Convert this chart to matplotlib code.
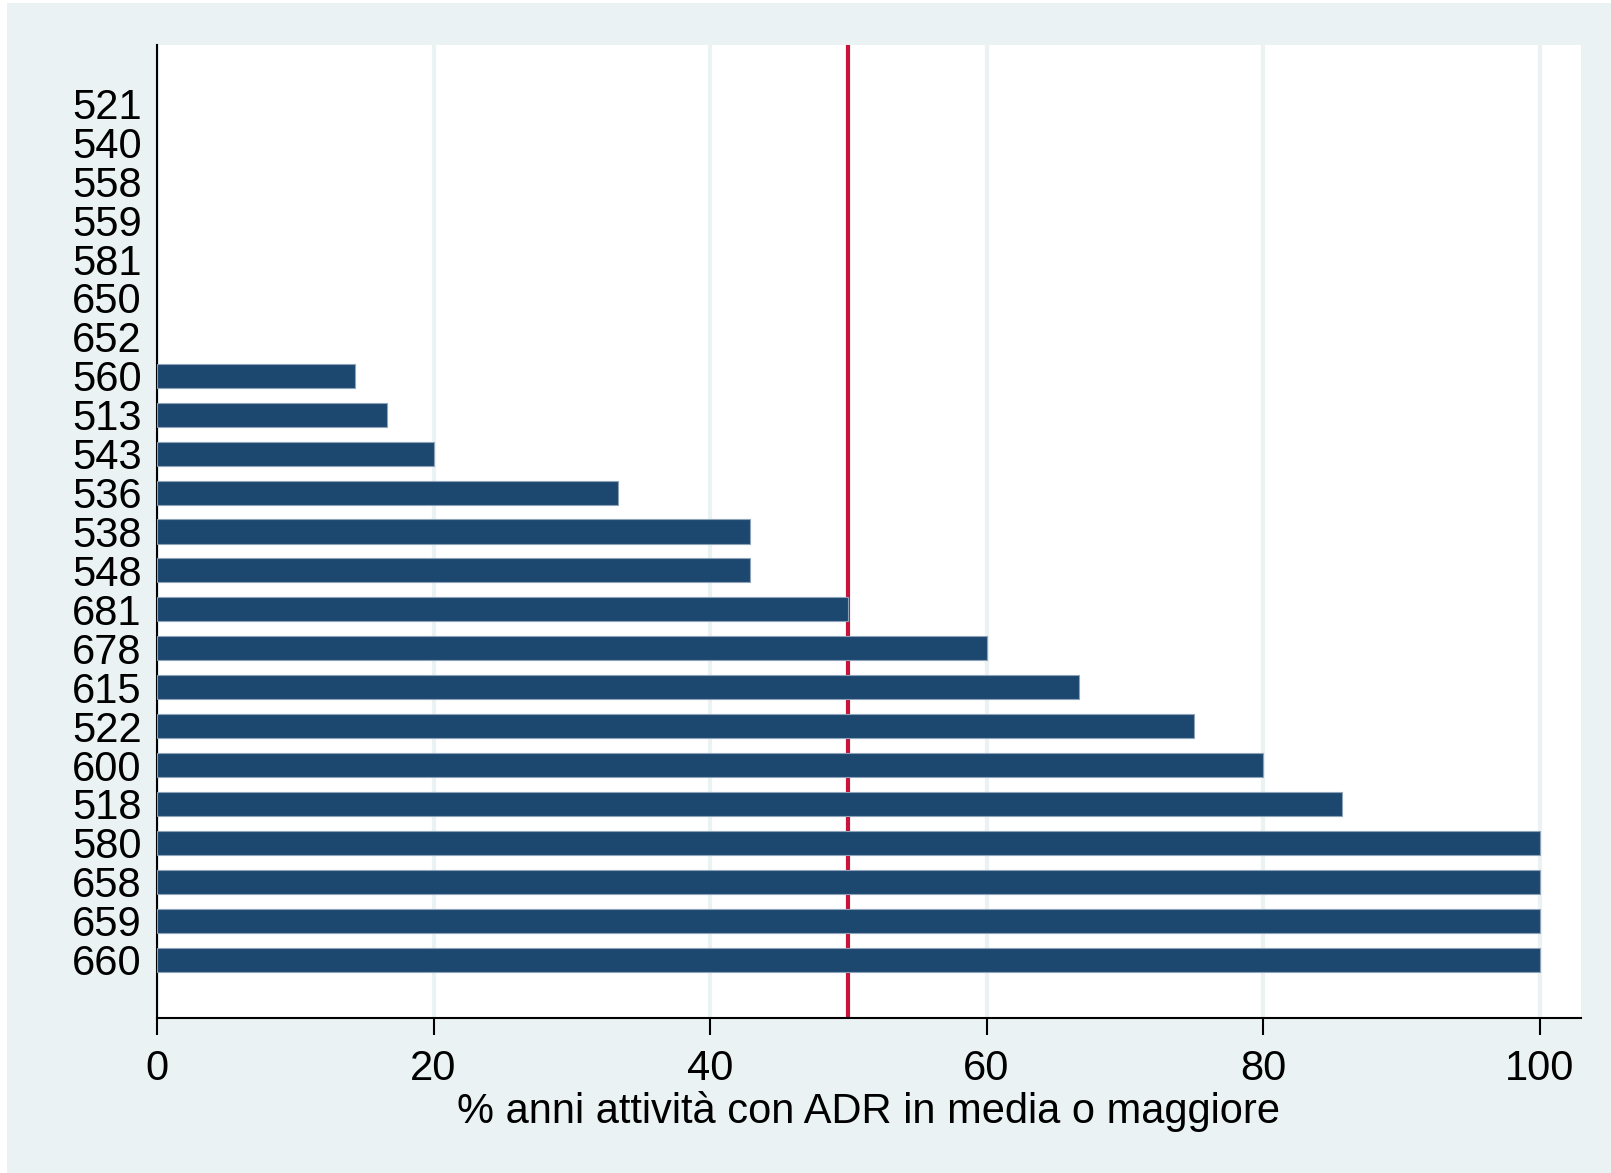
import matplotlib
matplotlib.use("Agg")
import matplotlib.pyplot as plt
from matplotlib.patches import Rectangle

# codici e % anni con ADR in media o maggiore (dall'alto in basso)
codici = ["521", "540", "558", "559", "581", "650", "652", "560", "513", "543",
          "536", "538", "548", "681", "678", "615", "522", "600", "518", "580",
          "658", "659", "660"]
percentuali = [0, 0, 0, 0, 0, 0, 0, 14.29, 16.67, 20.0,
               33.33, 42.86, 42.86, 50.0, 60.0, 66.67, 75.0, 80.0, 85.71, 100,
               100, 100, 100]
soglia = 50
xticks = [0, 20, 40, 60, 80, 100]

plt.rcParams['font.family'] = ['Liberation Sans', 'DejaVu Sans']

bg = "#EAF2F3"
navy = "#1C486F"

fig = plt.figure(figsize=(16.11, 11.73), dpi=100, facecolor="white")
# sfondo grafico tipo Stata, con sottile margine bianco a sinistra e in alto
fig.patches.append(Rectangle((7 / 1611, 0), 1 - 7 / 1611, 1 - 3 / 1173,
                             transform=fig.transFigure, facecolor=bg,
                             edgecolor="none", zorder=-10))

ax = fig.add_axes([157 / 1611, 1 - 1018 / 1173, (1581 - 157) / 1611, (1018 - 45) / 1173])
ax.set_facecolor("white")

pos = list(range(len(codici)))
bordi = ["#8EA3B8" if v > 0 else "none" for v in percentuali]
ax.barh(pos, percentuali, height=0.62, color=navy, edgecolor=bordi,
        linewidth=0.8, zorder=3)
ax.axvline(soglia, color="#C8143C", linewidth=3, zorder=2)

ax.set_xlim(0, 103)
ax.set_ylim(len(codici) - 1 + 1.5, -1.5)
ax.set_yticks(pos)
ax.set_yticklabels(codici)
ax.set_xticks(xticks)
ax.xaxis.grid(True, color=bg, linewidth=3, zorder=1)
ax.set_axisbelow(True)

ax.tick_params(axis="y", length=0, pad=11, labelsize=30)
ax.tick_params(axis="x", length=12, width=1.5, direction="out", pad=10, labelsize=30)
for s in ["top", "right"]:
    ax.spines[s].set_visible(False)
for s in ["left", "bottom"]:
    ax.spines[s].set_linewidth(1.5)

ax.set_xlabel("% anni attività con ADR in media o maggiore", fontsize=30, labelpad=2)

fig.savefig("out.png", dpi=100, facecolor=fig.get_facecolor())
